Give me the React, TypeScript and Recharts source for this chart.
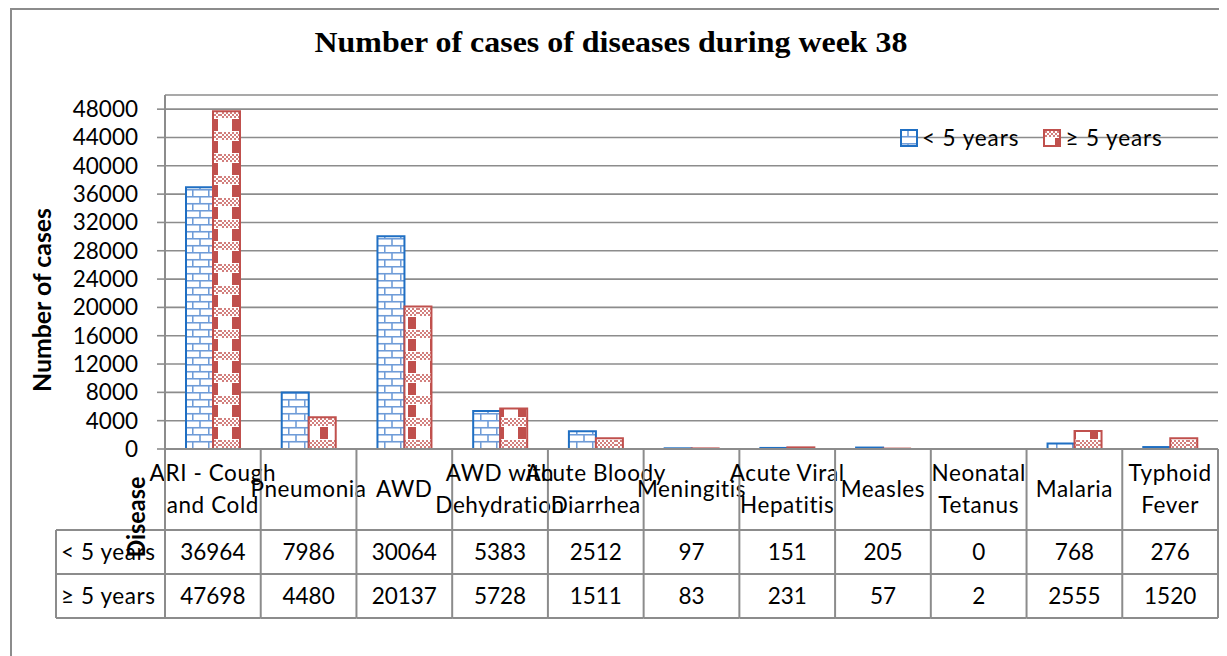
import React from 'react';
import { BarChart, Bar, XAxis, YAxis, CartesianGrid } from 'recharts';

const categories = [
  'ARI - Cough and Cold', 'Pneumonia', 'AWD', 'AWD with Dehydration', 'Acute Bloody Diarrhea',
  'Meningitis', 'Acute Viral Hepatitis', 'Measles', 'Neonatal Tetanus', 'Malaria', 'Typhoid Fever',
];
const categoryLines: string[][] = [
  ['ARI - Cough', 'and Cold'], ['Pneumonia'], ['AWD'], ['AWD with', 'Dehydration'], ['Acute Bloody', 'Diarrhea'],
  ['Meningitis'], ['Acute Viral', 'Hepatitis'], ['Measles'], ['Neonatal', 'Tetanus'], ['Malaria'], ['Typhoid', 'Fever'],
];
const under5 = [36964, 7986, 30064, 5383, 2512, 97, 151, 205, 0, 768, 276];
const over5 = [47698, 4480, 20137, 5728, 1511, 83, 231, 57, 2, 2555, 1520];
const seriesNames = ['< 5 years', '≥ 5 years'];
const yTicks = [0, 4000, 8000, 12000, 16000, 20000, 24000, 28000, 32000, 36000, 40000, 44000, 48000];
const yMax = 50000;
const title = 'Number of cases of diseases during week 38';
const yTitle = 'Number of cases';
const xTitle = 'Disease';

const data = categories.map((name, i) => ({ name, under5: under5[i], over5: over5[i] }));

const W = 1227;
const H = 656;
const Y_AXIS_W = 165;
const RIGHT_M = 9;
const TOP_M = 95;
const X_AXIS_H = 207;
const BAND = (W - Y_AXIS_W - RIGHT_M) / categories.length;

const GRAY = '#8c8c8c';
const BLUE = '#1f6fc3';
const RED = '#c0504d';
const FONT = 'Lato, "Open Sans", sans-serif';
const FS = 22.5;
const LS = 0.6;

const HEADER_H = 81;
const ROW_H = 44;
const LABEL_LEFT = 56;

const TableTick = (props: any) => {
  const { x, y, payload } = props;
  const i = payload.index;
  const left = x - BAND / 2;
  const right = x + BAND / 2;
  const lines = categoryLines[i];
  const bottom = y + HEADER_H + ROW_H * 2;
  const els: any[] = [];
  lines.forEach((ln, k) => {
    const cy = lines.length === 1 ? y + 40 : y + 24 + k * 32;
    els.push(
      <text key={'l' + k} x={x} y={cy + 8} textAnchor="middle" fontFamily={FONT} fontSize={FS} letterSpacing={LS} fill="#000">{ln}</text>
    );
  });
  els.push(<text key="v1" x={x} y={y + HEADER_H + ROW_H / 2 + 8} textAnchor="middle" fontFamily={FONT} fontSize={FS} fill="#000">{under5[i]}</text>);
  els.push(<text key="v2" x={x} y={y + HEADER_H + ROW_H * 1.5 + 8} textAnchor="middle" fontFamily={FONT} fontSize={FS} fill="#000">{over5[i]}</text>);
  els.push(<line key="r" x1={right} y1={y} x2={right} y2={bottom} stroke={GRAY} strokeWidth={2} />);
  if (i === 0) {
    els.push(<line key="lb" x1={left} y1={y} x2={left} y2={bottom} stroke={GRAY} strokeWidth={2} />);
    els.push(<line key="ll" x1={LABEL_LEFT} y1={y + HEADER_H} x2={LABEL_LEFT} y2={bottom} stroke={GRAY} strokeWidth={2} />);
    [0, 1, 2].forEach((r) => {
      els.push(<line key={'hl' + r} x1={LABEL_LEFT} y1={y + HEADER_H + r * ROW_H} x2={left} y2={y + HEADER_H + r * ROW_H} stroke={GRAY} strokeWidth={2} />);
    });
    seriesNames.forEach((s, r) => {
      els.push(<text key={'sn' + r} x={LABEL_LEFT + 5} y={y + HEADER_H + ROW_H * (r + 0.5) + 8} fontFamily={FONT} fontSize={FS} letterSpacing={LS} fill="#000">{s}</text>);
    });
  }
  [0, 1, 2].forEach((r) => {
    els.push(<line key={'h' + r} x1={left} y1={y + HEADER_H + r * ROW_H} x2={right} y2={y + HEADER_H + r * ROW_H} stroke={GRAY} strokeWidth={2} />);
  });
  return <g>{els}</g>;
};

const LegendBox = () => (
  <div style={{ position: 'absolute', left: 900, top: 126, display: 'flex', alignItems: 'center', fontFamily: FONT, fontSize: FS, letterSpacing: 0.9, color: '#000', whiteSpace: 'nowrap', lineHeight: '24px' }}>
    {seriesNames.map((s, k) => (
      <div key={s} style={{ display: 'flex', alignItems: 'center', marginRight: 24 }}>
        <svg width={18} height={18} style={{ marginRight: 4 }}>
          <rect x={1} y={1} width={16} height={16} fill={k === 0 ? 'url(#brickBlue)' : 'url(#checkRed)'} stroke={k === 0 ? BLUE : RED} strokeWidth={2} />
        </svg>
        <span>{s}</span>
      </div>
    ))}
  </div>
);

export default function App() {
  return (
    <div style={{ position: 'relative', width: W, height: H, marginLeft: -8, marginTop: -8, overflow: 'hidden', background: '#fff' }}>
      <svg width={0} height={0} style={{ position: 'absolute' }}>
        <defs>
          <pattern id="brickBlue" patternUnits="userSpaceOnUse" width={16} height={14}>
            <rect width={16} height={14} fill="#fff" />
            <line x1={0} y1={0.75} x2={16} y2={0.75} stroke="#6f9cd8" strokeWidth={1.6} />
            <line x1={0} y1={7.75} x2={16} y2={7.75} stroke="#6f9cd8" strokeWidth={1.6} />
            <line x1={8} y1={0} x2={8} y2={7} stroke="#6f9cd8" strokeWidth={1.6} />
            <line x1={0.75} y1={7} x2={0.75} y2={14} stroke="#6f9cd8" strokeWidth={1.6} />
          </pattern>
          <pattern id="checkPink" patternUnits="userSpaceOnUse" width={4} height={4}>
            <rect width={4} height={4} fill="#fff" />
            <rect width={2} height={2} fill="#d27f7d" />
            <rect x={2} y={2} width={2} height={2} fill="#d27f7d" />
          </pattern>
          <pattern id="checkRed" patternUnits="userSpaceOnUse" width={22} height={22}>
            <rect width={22} height={22} fill="#fff" />
            <rect width={22} height={8} fill="url(#checkPink)" />
            <rect x={12} y={9} width={8} height={12} fill={RED} />
          </pattern>
        </defs>
      </svg>
      <div style={{ position: 'absolute', left: 10, top: 8, width: W + 20, height: H + 20, border: `2px solid ${GRAY}`, boxSizing: 'border-box' }} />
      <div style={{ position: 'absolute', left: 0, top: 0 }}>
        <BarChart width={W} height={H} data={data} margin={{ top: TOP_M, right: RIGHT_M, bottom: 0, left: 0 }} barGap={0} barSize={27}>
          <CartesianGrid vertical={false} stroke={GRAY} strokeWidth={1.6} />
          <XAxis dataKey="name" interval={0} height={X_AXIS_H} tickLine={false} tickSize={0} tickMargin={0}
            axisLine={{ stroke: GRAY, strokeWidth: 2 }} tick={(p: any) => <TableTick {...p} />} />
          <YAxis width={Y_AXIS_W} domain={[0, yMax]} ticks={yTicks} interval={0} tickSize={8} tickMargin={19}
            axisLine={{ stroke: GRAY, strokeWidth: 2 }} tickLine={{ stroke: GRAY, strokeWidth: 1.6 }}
            tick={{ fontFamily: FONT, fontSize: FS, fill: '#000' }} />
          <Bar dataKey="under5" name={seriesNames[0]} fill="url(#brickBlue)" stroke={BLUE} strokeWidth={2} isAnimationActive={false} />
          <Bar dataKey="over5" name={seriesNames[1]} fill="url(#checkRed)" stroke={RED} strokeWidth={2} isAnimationActive={false} />
        </BarChart>
      </div>
      <LegendBox />
      <svg width={W} height={H} style={{ position: 'absolute', left: 0, top: 0, pointerEvents: 'none' }}>
        <text x={611} y={52} textAnchor="middle" fontFamily='"Liberation Serif", "Times New Roman", serif' fontWeight="bold" fontSize={30} textLength={593} lengthAdjust="spacingAndGlyphs">{title}</text>
        <text transform="translate(51,300) rotate(-90)" textAnchor="middle" fontFamily={FONT} fontWeight="bold" fontSize={24.5} textLength={184} lengthAdjust="spacingAndGlyphs">{yTitle}</text>
        <text transform="translate(145,517) rotate(-90)" textAnchor="middle" fontFamily={FONT} fontWeight="bold" fontSize={24.5} textLength={81} lengthAdjust="spacingAndGlyphs">{xTitle}</text>
      </svg>
    </div>
  );
}
